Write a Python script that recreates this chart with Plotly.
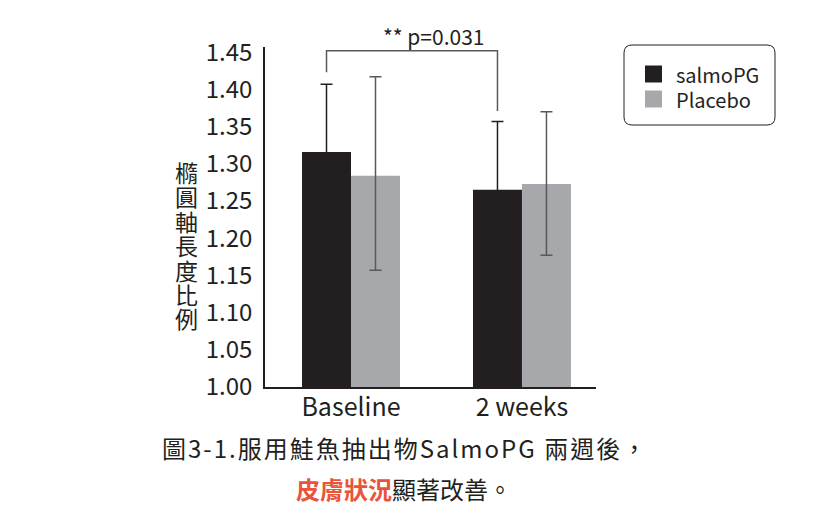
import plotly.graph_objects as go

# data
categories = ['Baseline', '2 weeks']
salmo_vals = [1.316, 1.265]
salmo_err_plus = [0.091, 0.092]
salmo_err_minus = [0.088, 0.088]
placebo_vals = [1.284, 1.273]
placebo_err_plus = [0.133, 0.097]
placebo_err_minus = [0.127, 0.096]
series_names = ['salmoPG', 'Placebo']
p_label = '** p=0.031'
y_title = '橢圓軸長度比例'
y_ticks = [1.00, 1.05, 1.10, 1.15, 1.20, 1.25, 1.30, 1.35, 1.40, 1.45]

FONT = 'Noto Sans CJK TC'
DARK = '#231f20'
GREY = '#a7a8ab'
ERR_GREY = '#58595b'

xpos = list(range(len(categories)))
bargap = 0.427
bar_w = (1 - bargap) / 2

fig = go.Figure()
fig.add_trace(go.Bar(
    x=xpos, y=salmo_vals, name=series_names[0], marker=dict(color=DARK, line=dict(width=0)),
    error_y=dict(type='data', array=salmo_err_plus, arrayminus=salmo_err_minus,
                 color=DARK, thickness=1.5, width=6),
    showlegend=False))
fig.add_trace(go.Bar(
    x=xpos, y=placebo_vals, name=series_names[1], marker=dict(color=GREY, line=dict(width=0)),
    error_y=dict(type='data', array=placebo_err_plus, arrayminus=placebo_err_minus,
                 color=ERR_GREY, thickness=1.5, width=6),
    showlegend=False))

# significance bracket between the two salmoPG bars
xl = xpos[0] - bar_w / 2
xr = xpos[1] - bar_w / 2
fig.add_shape(type='path',
              path=f'M {xl},1.423 L {xl},1.452 L {xr},1.452 L {xr},1.371',
              xref='x', yref='y', line=dict(color=ERR_GREY, width=1.5))

# helpers: screen pixel -> paper coords (plot area 265..596 x 47..387 on screen)
W, H = 331, 340
def px(x): return (x - 265) / W
def py(y): return (387 - y) / H

def label(x, y, text, size, **kw):
    fig.add_annotation(x=px(x), y=py(y), xref='paper', yref='paper', text=text,
                       showarrow=False, xanchor=kw.pop('xanchor', 'center'),
                       yanchor='middle', font=dict(family=FONT, size=size, color=DARK), **kw)

label(433, 36, p_label, 21)

# legend drawn by hand: rounded frame, squares, labels
x0, x1, y0, y1, r = 624, 775, 45, 125, 8
path = (f'M {px(x0 + r)},{py(y0)} L {px(x1 - r)},{py(y0)} '
        f'Q {px(x1)},{py(y0)} {px(x1)},{py(y0 + r)} L {px(x1)},{py(y1 - r)} '
        f'Q {px(x1)},{py(y1)} {px(x1 - r)},{py(y1)} L {px(x0 + r)},{py(y1)} '
        f'Q {px(x0)},{py(y1)} {px(x0)},{py(y1 - r)} L {px(x0)},{py(y0 + r)} '
        f'Q {px(x0)},{py(y0)} {px(x0 + r)},{py(y0)} Z')
fig.add_shape(type='path', path=path, xref='paper', yref='paper',
              line=dict(color=DARK, width=1))
for i, (nm, col) in enumerate(zip(series_names, [DARK, GREY])):
    cy = 74 + 25 * i
    fig.add_shape(type='rect', xref='paper', yref='paper',
                  x0=px(645), x1=px(662), y0=py(cy - 8.5), y1=py(cy + 8.5),
                  fillcolor=col, line=dict(width=0))
    label(674, cy, nm, 20, xanchor='left')

# vertical y-axis title, one character per line
for i, ch in enumerate(y_title):
    label(186, 172 + 24.4 * i, ch, 23)

# caption
label(405, 447, '<span style="letter-spacing:2px">圖3-1.服用鮭魚抽出物SalmoPG 兩週後，</span>', 24)
label(404, 488, '<span style="color:#e8553a"><b>皮膚狀況</b></span>顯著改善。', 24)

# page body adds an 8px offset, so the figure is 8px smaller and margins shifted
fig.update_layout(
    width=806, height=521,
    margin=dict(l=257, r=218, t=39, b=142),
    paper_bgcolor='white', plot_bgcolor='white',
    barmode='group', bargap=bargap, bargroupgap=0,
    font=dict(family=FONT, color=DARK),
    showlegend=False,
    xaxis=dict(range=[-0.503, 1.433], tickvals=xpos, ticktext=categories,
               showline=True, linecolor=DARK, linewidth=1.5, showgrid=False,
               zeroline=False, ticks='', ticklabelstandoff=-3,
               tickfont=dict(family=FONT, size=25, color=DARK)),
    yaxis=dict(range=[1.0, 1.457], tickvals=y_ticks,
               ticktext=[f'{v:.2f}' for v in y_ticks],
               showline=True, linecolor=DARK, linewidth=1.5, showgrid=False,
               zeroline=False, ticks='', ticklabelstandoff=6,
               tickfont=dict(family=FONT, size=24, color=DARK)),
)

fig.write_html('out.html')
